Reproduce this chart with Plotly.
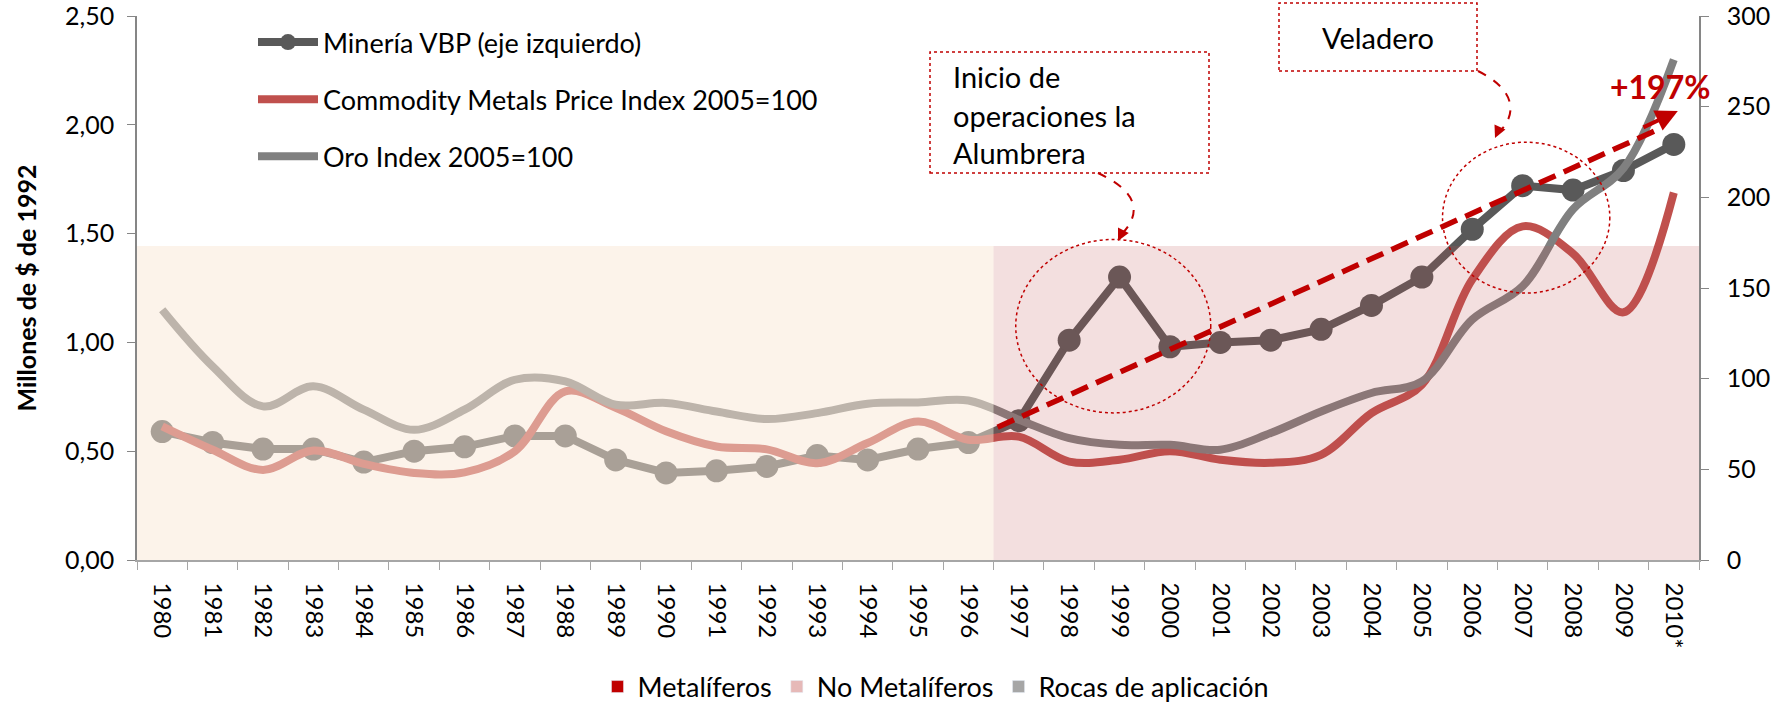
import plotly.graph_objects as go

# ---------------- data ----------------
years = [str(y) for y in range(1980, 2010)] + ["2010*"]

mineria_vbp = [0.59, 0.54, 0.51, 0.51, 0.45, 0.50, 0.52, 0.57, 0.57, 0.46,
               0.40, 0.41, 0.43, 0.48, 0.46, 0.51, 0.54, 0.64, 1.01, 1.30,
               0.98, 1.00, 1.01, 1.06, 1.17, 1.30, 1.52, 1.72, 1.70, 1.79, 1.91]

metals_index = [73.7, 60.8, 49.7, 60.4, 53.0, 48.0, 48.3, 60.0, 93.0, 84.0,
                71.0, 62.6, 61.0, 53.4, 64.5, 76.4, 66.3, 68.0, 54.3, 55.3,
                60.0, 55.3, 53.6, 58.0, 81.0, 96.7, 154.7, 184.0, 169.0, 136.6, 202.6]

oro_index = [138.0, 106.8, 84.7, 95.8, 82.9, 71.8, 82.9, 99.4, 98.5, 85.6,
             86.6, 81.9, 77.7, 81.0, 86.2, 86.9, 88.0, 77.4, 67.2, 63.5,
             63.5, 60.8, 70.0, 81.9, 92.1, 98.5, 132.6, 151.0, 193.4, 216.0, 276.0]

series_names = ["Minería VBP (eje izquierdo)",
                "Commodity Metals Price Index 2005=100",
                "Oro Index 2005=100"]
bar_names = ["Metalíferos", "No Metalíferos", "Rocas de aplicación"]

# ---------------- layout geometry (pixels) ----------------
W, H = 1781, 703
PL, PR, PT, PB = 137, 1699, 16, 560


def px(x):
    return (x - PL) / (PR - PL)


def py(y):
    return (PB - y) / (PB - PT)


FONT = "Lato"
RED = "#C00000"

fig = go.Figure()

fig.add_trace(go.Scatter(
    x=years, y=mineria_vbp, name=series_names[0], mode="lines+markers",
    line=dict(color="#595959", width=8), marker=dict(color="#595959", size=23),
    legendgroup="a"))
fig.add_trace(go.Scatter(
    x=years, y=metals_index, name=series_names[1], mode="lines", yaxis="y2",
    line=dict(color="#C0504D", width=8, shape="spline", smoothing=1),
    legendgroup="b"))
fig.add_trace(go.Scatter(
    x=years, y=oro_index, name=series_names[2], mode="lines", yaxis="y2",
    line=dict(color="#808080", width=8, shape="spline", smoothing=1),
    legendgroup="c"))

bar_colors = [RED, "#E6B9B8", "#A6A6A6"]
for nm, col in zip(bar_names, bar_colors):
    fig.add_trace(go.Bar(x=[None], y=[None], name=nm, marker_color=col,
                         legend="legend2", showlegend=True))

shapes = [
    # shaded periods (drawn above the lines, semi-transparent)
    dict(type="rect", xref="x", yref="y", x0=-0.5, x1=16.5, y0=0, y1=1.443,
         fillcolor="rgba(250,232,214,0.5)", line_width=0, layer="above"),
    dict(type="rect", xref="x", yref="y", x0=16.5, x1=30.5, y0=0, y1=1.443,
         fillcolor="rgba(190,80,80,0.18)", line_width=0, layer="above"),
    # ellipses
    dict(type="circle", xref="x", yref="y", x0=16.94, x1=20.81, y0=0.676, y1=1.473,
         line=dict(color=RED, width=1.5, dash="dot"), layer="above"),
    dict(type="circle", xref="x", yref="y", x0=25.41, x1=28.73, y0=1.227, y1=1.92,
         line=dict(color=RED, width=1.5, dash="dot"), layer="above"),
    # trend line
    dict(type="line", xref="x", yref="y", x0=16.58, y0=0.61, x1=29.75, y1=1.985,
         line=dict(color=RED, width=5.5, dash="18px,9px"), layer="above"),
    # text boxes
    dict(type="rect", xref="paper", yref="paper", x0=px(930), x1=px(1209),
         y0=py(173), y1=py(52), line=dict(color=RED, width=1.5, dash="dot"),
         layer="above"),
    dict(type="rect", xref="paper", yref="paper", x0=px(1279), x1=px(1477),
         y0=py(71), y1=py(3), line=dict(color=RED, width=1.5, dash="dot"),
         layer="above"),
    # curved connector arrows
    dict(type="path", xref="paper", yref="paper",
         path="M {},{} C {},{} {},{} {},{}".format(px(1098), py(173), px(1145), py(195),
                                                   px(1138), py(218), px(1120), py(236)),
         line=dict(color=RED, width=2, dash="dash"), layer="above"),
    dict(type="path", xref="paper", yref="paper",
         path="M {},{} C {},{} {},{} {},{}".format(px(1478), py(71), px(1520), py(92),
                                                   px(1515), py(118), px(1498), py(133)),
         line=dict(color=RED, width=2, dash="dash"), layer="above"),
]

annotations = [
    dict(xref="x", yref="y", x=30.08, y=2.063, ax=-36, ay=17, showarrow=True,
         arrowhead=2, arrowsize=1.1, arrowwidth=4, arrowcolor=RED, text=""),
    dict(xref="paper", yref="paper", x=px(1118), y=py(241), ax=6, ay=-12, showarrow=True,
         arrowhead=2, arrowsize=1.2, arrowwidth=2, arrowcolor=RED, text=""),
    dict(xref="paper", yref="paper", x=px(1495), y=py(138), ax=5, ay=-11, showarrow=True,
         arrowhead=2, arrowsize=1.2, arrowwidth=2, arrowcolor=RED, text=""),
    dict(xref="paper", yref="paper", x=px(1378), y=py(38), text="Veladero",
         showarrow=False, font=dict(family=FONT, size=29, color="#000"),
         xanchor="center", yanchor="middle"),
    dict(xref="paper", yref="paper", x=px(1660), y=py(87), text="<b>+197%</b>",
         showarrow=False, font=dict(family=FONT, size=32, color=RED),
         xanchor="center", yanchor="middle"),
]
for line_txt, yc in zip(["Inicio de", "operaciones la", "Alumbrera"], [76, 115, 152]):
    annotations.append(dict(xref="paper", yref="paper", x=px(951), y=py(yc), text=line_txt,
                            showarrow=False, xanchor="left", yanchor="middle",
                            font=dict(family=FONT, size=29, color="#000")))

fig.update_layout(
    width=W, height=H,
    margin=dict(l=PL, r=W - PR, t=PT, b=H - PB, pad=0, autoexpand=False),
    paper_bgcolor="white", plot_bgcolor="white",
    separators=",.",
    font=dict(family=FONT, size=24, color="#000"),
    xaxis=dict(type="category", range=[-0.5, 30.5], showgrid=False, automargin=False,
               showline=True, linecolor="#A6A6A6", linewidth=1.5,
               ticks="outside", tickson="boundaries", ticklen=8, tickcolor="#A6A6A6",
               tickangle=90, tickfont=dict(family=FONT, size=24, color="#000"),
               ticklabelstandoff=16),
    yaxis=dict(range=[0, 2.5], dtick=0.5, tickformat=".2f", showgrid=False,
               automargin=False, ticklabeloverflow="allow",
               showline=True, linecolor="#868686", linewidth=1.5, zeroline=False,
               ticks="outside", ticklen=8, tickcolor="#868686", ticklabelstandoff=8,
               tickfont=dict(family=FONT, size=25, color="#000"),
               title=dict(text="<b>Millones de $ de 1992</b>",
                          font=dict(family=FONT, size=25, color="#000"), standoff=21)),
    yaxis2=dict(range=[0, 300], dtick=50, overlaying="y", side="right", showgrid=False,
                automargin=False, ticklabeloverflow="allow",
                showline=True, linecolor="#868686", linewidth=1.5, zeroline=False,
                ticks="outside", ticklen=8, tickcolor="#868686", ticklabelstandoff=13,
                tickfont=dict(family=FONT, size=25, color="#000")),
    legend=dict(x=px(253), y=py(18), xanchor="left", yanchor="top",
                bgcolor="rgba(0,0,0,0)", font=dict(family=FONT, size=27, color="#000"),
                tracegroupgap=19, itemwidth=60, traceorder="grouped"),
    legend2=dict(orientation="h", x=px(936), y=py(687), xanchor="center", yanchor="middle",
                 bgcolor="rgba(0,0,0,0)", font=dict(family=FONT, size=27, color="#000")),
    shapes=shapes,
    annotations=annotations,
    showlegend=True,
)

fig.write_html("out.html", config={"displayModeBar": False},
               post_script="document.body.style.margin='0';")
